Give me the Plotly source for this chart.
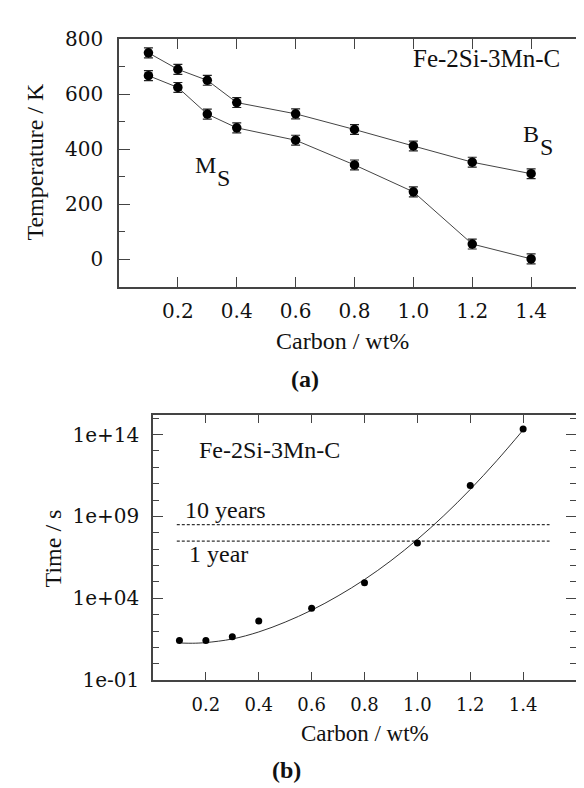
import plotly.graph_objects as go

# ---------------- data ----------------
carbon = [0.1, 0.2, 0.3, 0.4, 0.6, 0.8, 1.0, 1.2, 1.4]
bs_temp = [751, 691, 651, 570, 529, 472, 412, 353, 311]
ms_temp = [668, 625, 528, 478, 433, 343, 245, 55, 1]
temp_err = [18, 18, 18, 18, 18, 18, 18, 18, 18]

time_log10 = [1.42, 1.42, 1.66, 2.62, 3.39, 4.96, 7.38, 10.89, 14.34]
fit_carbon = [0.11, 0.15, 0.2, 0.3, 0.4, 0.5, 0.6, 0.7, 0.8, 0.9, 1.0, 1.1, 1.2, 1.3, 1.4]
fit_log10 = [1.27, 1.26, 1.30, 1.52, 1.95, 2.55, 3.28, 4.15, 5.15, 6.30, 7.60, 9.05, 10.65, 12.40, 14.28]
ten_years_s = 3.156e8
one_year_s = 3.156e7
ref_line_x = [0.09, 1.5]

temp_ticks = [0, 200, 400, 600, 800]
temp_minor = [100, 300, 500, 700]
carbon_ticks = [0.2, 0.4, 0.6, 0.8, 1.0, 1.2, 1.4]
carbon_ticktext = ["0.2", "0.4", "0.6", "0.8", "1.0", "1.2", "1.4"]
time_ticks = [1e-1, 1e4, 1e9, 1e14]
time_ticktext = ["1e-01", "1e+04", "1e+09", "1e+14"]
time_minor = [10.0 ** k for k in range(-1, 16)]

time_pts = [10 ** v for v in time_log10]
fit_time = [10 ** v for v in fit_log10]

# ---------------- figure ----------------
W, H = 584, 788
def px(x):
    return x / W
def py(y):
    return 1 - y / H

TICKF = dict(family="DejaVu Serif", size=20, color="#111")
TICKF_SMALL = dict(family="DejaVu Serif", size=18, color="#111")
SERIF = "Liberation Serif"
LINE_C = "#444"
AX_C = "#444"

fig = go.Figure()

# top: Bs and Ms
for temps in (bs_temp, ms_temp):
    fig.add_trace(go.Scatter(
        x=carbon, y=temps, mode="lines+markers", xaxis="x", yaxis="y",
        line=dict(color=LINE_C, width=1),
        marker=dict(color="black", size=9.5),
        error_y=dict(type="data", array=temp_err, color="#222", thickness=1.2, width=4.5),
        showlegend=False))

# bottom: time
fig.add_trace(go.Scatter(
    x=ref_line_x, y=[ten_years_s, ten_years_s], mode="lines", xaxis="x2", yaxis="y2",
    line=dict(color="#333", width=1.2, dash="3px,2px"), showlegend=False))
fig.add_trace(go.Scatter(
    x=ref_line_x, y=[one_year_s, one_year_s], mode="lines", xaxis="x2", yaxis="y2",
    line=dict(color="#333", width=1.2, dash="3px,2px"), showlegend=False))
fig.add_trace(go.Scatter(
    x=fit_carbon, y=fit_time, mode="lines", xaxis="x2", yaxis="y2",
    line=dict(color="#333", width=1, shape="spline", smoothing=1.0), showlegend=False))
fig.add_trace(go.Scatter(
    x=carbon, y=time_pts, mode="markers", xaxis="x2", yaxis="y2",
    marker=dict(color="black", size=7), showlegend=False))

common = dict(showline=True, linecolor=AX_C, linewidth=1.5, mirror="ticks",
              ticks="inside", tickcolor=AX_C, tickwidth=1.2,
              showgrid=False, zeroline=False)

fig.update_layout(
    width=W, height=H,
    margin=dict(l=0, r=0, t=0, b=0),
    paper_bgcolor="white", plot_bgcolor="white",
    xaxis=dict(domain=[px(111), px(582)], anchor="y", range=[0, 1.6],
               tickvals=carbon_ticks, ticktext=carbon_ticktext, ticklen=10,
               ticklabelstandoff=6, tickfont=TICKF, **common),
    yaxis=dict(domain=[py(275), py(20)], anchor="x", range=[-100, 800],
               tickvals=temp_ticks, ticklen=11, ticklabelstandoff=10, tickfont=TICKF,
               minor=dict(tickvals=temp_minor, ticklen=6, ticks="inside", tickcolor=AX_C),
               **common),
    xaxis2=dict(domain=[px(145), px(568)], anchor="y2", range=[0, 1.6],
                tickvals=carbon_ticks, ticktext=carbon_ticktext, ticklen=9,
                ticklabelstandoff=7, tickfont=TICKF_SMALL, **common),
    yaxis2=dict(domain=[py(681), py(407)], anchor="x2", type="log", range=[-1, 15.22],
                tickvals=time_ticks, ticktext=time_ticktext, ticklen=10,
                ticklabelstandoff=8, tickfont=TICKF,
                minor=dict(tickvals=time_minor, ticklen=6, ticks="inside", tickcolor=AX_C),
                **common),
)

def ann(text, x, y, size=24, family=SERIF, angle=0, xanchor="center", bold=False):
    t = f"<b>{text}</b>" if bold else text
    fig.add_annotation(text=t, x=px(x), y=py(y), xref="paper", yref="paper",
                       showarrow=False, xanchor=xanchor, yanchor="middle",
                       textangle=angle, font=dict(family=family, size=size, color="#111"))

# axis titles and captions
ann("Temperature / K", 27, 146, angle=-90)
ann("Carbon / wt%", 334, 331)
ann("(a)", 297, 370, bold=True)
ann("Time / s", 45, 545, angle=-90)
ann("Carbon / wt%", 357, 736, size=23)
ann("(b)", 278, 774, bold=True)

# in-plot labels
ann("Fe-2Si-3Mn-C", 554, 40, size=25, xanchor="right")
ann("B", 513, 118, xanchor="left")
ann("S", 530, 131, xanchor="left")
ann("M", 185, 150, xanchor="left")
ann("S", 207, 163, xanchor="left")
ann("Fe-2Si-3Mn-C", 189, 444, xanchor="left")
ann("10 years", 175, 505, xanchor="left")
ann("1 year", 179, 551, xanchor="left")

fig.write_html("out.html")
